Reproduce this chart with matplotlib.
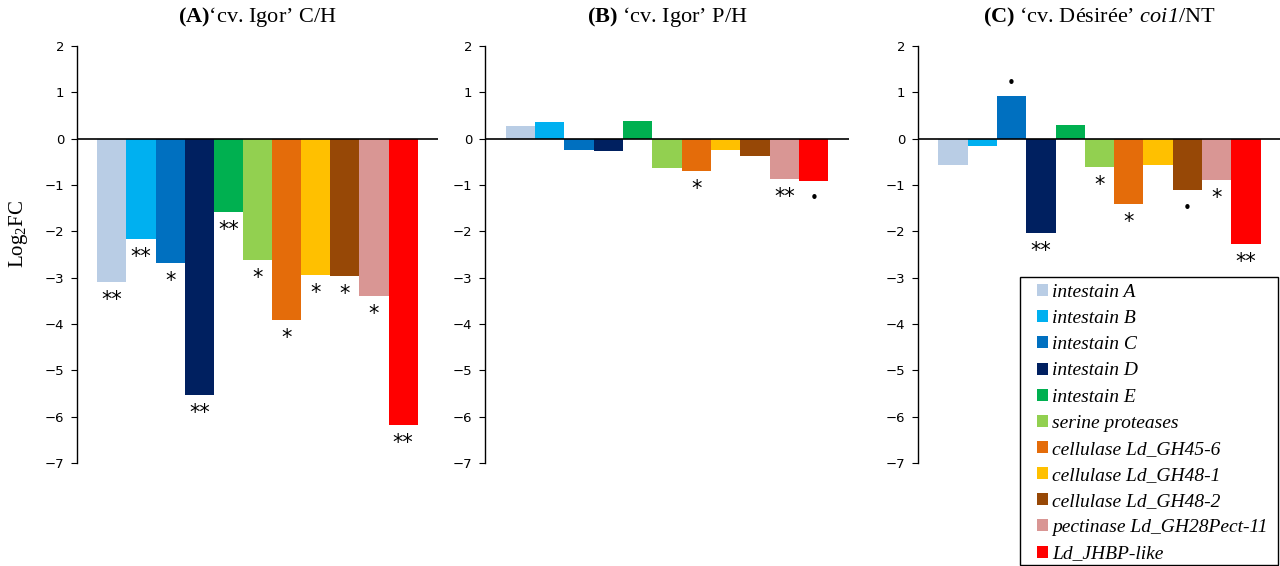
import numpy as np
import matplotlib
matplotlib.use("Agg")
import matplotlib.pyplot as plt
from matplotlib.patches import Patch, Rectangle

# ----- dados -----
genes = ["intestain A", "intestain B", "intestain C", "intestain D", "intestain E",
         "serine proteases", "cellulase Ld_GH45-6", "cellulase Ld_GH48-1",
         "cellulase Ld_GH48-2", "pectinase Ld_GH28Pect-11", "Ld_JHBP-like"]
cores = ["#B9CDE5", "#00B0F0", "#0070C0", "#002060", "#00B050", "#92D050",
         "#E46C0A", "#FFC000", "#974806", "#D99694", "#FF0000"]

valores_A = [-3.09, -2.16, -2.68, -5.54, -1.58, -2.62, -3.91, -2.94, -2.96, -3.39, -6.17]
valores_B = [0.27, 0.35, -0.25, -0.27, 0.39, -0.63, -0.70, -0.25, -0.37, -0.87, -0.91]
valores_C = [-0.57, -0.16, 0.93, -2.03, 0.29, -0.61, -1.41, -0.57, -1.11, -0.89, -2.27]

sig_A = ["**", "**", "*", "**", "**", "*", "*", "*", "*", "*", "**"]
sig_B = ["", "", "", "", "", "", "*", "", "", "**", "•"]
sig_C = ["", "", "•", "**", "", "*", "*", "", "•", "*", "**"]

titulos = [r"$\mathbf{(A)}$‘cv. Igor’ C/H",
           r"$\mathbf{(B)}$ ‘cv. Igor’ P/H",
           r"$\mathbf{(C)}$ ‘cv. Désirée’ $\mathsf{coi1}$/NT"]

yticks = [2, 1, 0, -1, -2, -3, -4, -5, -6, -7]

# ----- estilo -----
plt.rcParams["mathtext.fontset"] = "custom"
plt.rcParams["mathtext.rm"] = "Liberation Serif"
plt.rcParams["mathtext.it"] = "Liberation Serif:italic"
plt.rcParams["mathtext.bf"] = "Liberation Serif:bold"
plt.rcParams["mathtext.sf"] = "Liberation Serif:italic"  # italico com digitos (coi1)

W, H = 1280, 566
fig = plt.figure(figsize=(W / 100, H / 100), dpi=100)

# posicoes dos eixos em pixels (esquerda, direita)
eixos_px = [(77, 438), (485, 849), (918, 1281)]
topo, base = 46, 463

x = np.arange(len(genes))
for k, (vals, sigs, tit) in enumerate(zip([valores_A, valores_B, valores_C],
                                          [sig_A, sig_B, sig_C], titulos)):
    l, r = eixos_px[k]
    ax = fig.add_axes([l / W, 1 - base / H, (r - l) / W, (base - topo) / H])
    ax.bar(x, vals, width=1.0, color=cores, linewidth=0)
    ax.axhline(0, color="black", linewidth=1.2)
    ax.set_ylim(-7, 2)
    ax.set_xlim(-0.5 - 0.7, len(genes) - 0.5 + 0.7)
    ax.set_yticks(yticks)
    ax.set_yticklabels([str(t).replace("-", "−") for t in yticks])
    ax.tick_params(axis="y", direction="out", length=4, width=0.8, pad=5,
                   labelsize=9.5, colors="black")
    ax.set_xticks([])
    for s in ["top", "right", "bottom"]:
        ax.spines[s].set_visible(False)
    ax.spines["left"].set_linewidth(1.0)
    ax.set_title(tit, fontsize=16, family="Liberation Serif", pad=17)

    for i, (v, s) in enumerate(zip(vals, sigs)):
        if not s:
            continue
        off = -13 if v < 0 else 9
        fs = 15 if s != "•" else 11
        ax.annotate(s, xy=(i, v), xytext=(0, off), textcoords="offset points",
                    ha="center", va="center", fontsize=fs, family="DejaVu Sans")

fig.text(19 / W, 1 - 234 / H, r"Log$_2$FC", rotation=90, ha="center", va="center",
         fontsize=15, family="Liberation Serif")

# legenda: moldura desenhada a parte
fig.add_artist(Rectangle((1020 / W, 1 - 565 / H), 258 / W, 288 / H,
                         transform=fig.transFigure, fill=False,
                         edgecolor="black", linewidth=1.0))
handles = [Patch(facecolor=c, edgecolor="none") for c in cores]
fig.legend(handles, genes, loc="upper left",
           bbox_to_anchor=(1037 / W, 1 - 284 / H),
           prop={"family": "Liberation Serif", "style": "italic", "size": 14},
           frameon=False, handlelength=0.57, handleheight=0.57, handletextpad=0.2,
           labelspacing=0.47, borderpad=0, borderaxespad=0)

fig.savefig("out.png", dpi=100)
